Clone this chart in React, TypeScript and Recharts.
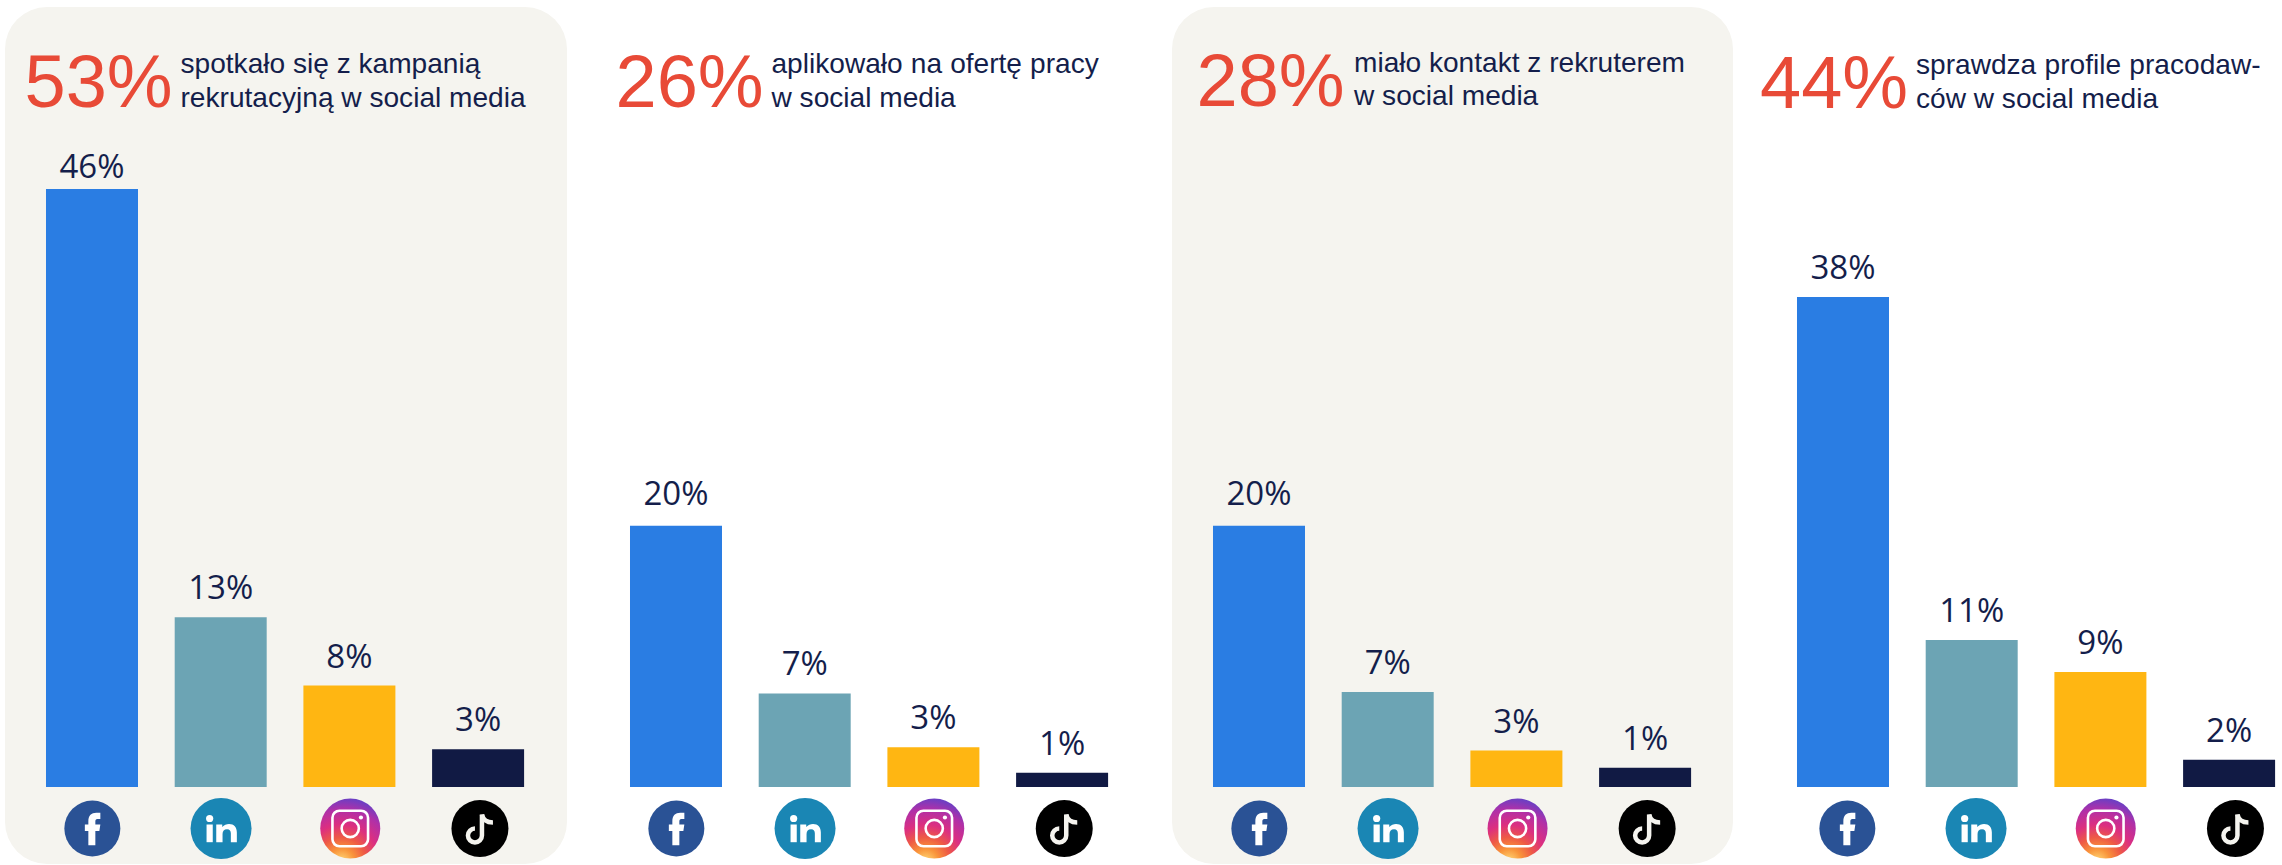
import { BarChart, Bar, XAxis, YAxis, Cell, LabelList } from 'recharts';

const platforms = ['Facebook', 'LinkedIn', 'Instagram', 'TikTok'];
const barColors = ['#2A7DE3', '#6CA4B4', '#FFB612', '#111A44'];

// Bar lengths, the printed labels are these rounded
const recruitingCampaign = [46, 13.05, 7.8, 2.9];
const appliedToOffer = [20.1, 7.2, 3.05, 1.1];
const recruiterContact = [20.1, 7.3, 2.8, 1.49];
const employerProfiles = [37.7, 11.3, 8.85, 2.1];

const RED = '#E84A37';
const NAVY = '#141E4B';
const PANEL_BG = '#F5F4EF';
const HEAD_FONT = '"Liberation Sans", Arial, sans-serif';

const panels = [
  {
    values: recruitingCampaign,
    total: '53%',
    lines: ['spotkało się z kampanią', 'rekrutacyjną w social media'],
    chartX: 27.8,
    iconShift: [0, 0, 0.5, 1.5],
    totalX: 24.5,
    totalY: 107,
    textX: 180.5,
    lineY: [73, 107],
    spacing: 0,
  },
  {
    values: appliedToOffer,
    total: '26%',
    lines: ['aplikowało na ofertę pracy', 'w social media'],
    chartX: 612,
    iconShift: [0, 0, 0.5, 1.8],
    totalX: 615.5,
    totalY: 107,
    textX: 771.5,
    lineY: [73, 107],
    spacing: 0.3,
  },
  {
    values: recruiterContact,
    total: '28%',
    lines: ['miało kontakt z rekruterem', 'w social media'],
    chartX: 1195.1,
    iconShift: [0, 0, 0.8, 1.7],
    totalX: 1196.5,
    totalY: 106,
    textX: 1354,
    lineY: [72, 104.5],
    spacing: 0,
  },
  {
    values: employerProfiles,
    total: '44%',
    lines: ['sprawdza profile pracodaw-', 'ców w social media'],
    chartX: 1779,
    iconShift: [4, 4, 5, 6],
    totalX: 1760,
    totalY: 108,
    textX: 1916,
    lineY: [73.5, 108],
    spacing: 0.5,
  },
];

function PlatformIcon({ x, y, payload, shift }: any) {
  const name = payload.value;
  const cx = x + shift[platforms.indexOf(name)];
  const cy = y + 33.5;
  return (
    <g transform={`translate(${cx},${cy})`}>
      {name === 'Facebook' && (
        <>
          <circle r={28} fill="#2A5295" />
          <path
            d="M-4 16.7V2.5H-7.5V-4H-4V-7C-4-13-1-15.7 4-15.7H8V-9.5H5C3.5-9.5 3-8.5 3-7V-4H8L7 2.5H3V16.7Z"
            fill="#fff"
          />
        </>
      )}
      {name === 'LinkedIn' && (
        <>
          <circle r={30.5} fill="#1A86B4" />
          <circle cx={-11.4} cy={-10} r={3.6} fill="#fff" />
          <rect x={-14.5} y={-4} width={6.2} height={17.7} fill="#fff" />
          <path
            d="M-4.8 13.7V-4H1.2V-1.5C3-3.8 5.5-4.6 8-4.6C13-4.6 15.8-1.5 15.8 4V13.7H9.8V5C9.8 2.5 8.8.8 6 .8C3 .8 1.5 2.8 1.5 5.5V13.7Z"
            fill="#fff"
          />
        </>
      )}
      {name === 'Instagram' && (
        <>
          <circle r={30} fill="url(#igGradient)" />
          <rect x={-17.8} y={-17.8} width={35.6} height={35.6} rx={7} fill="none" stroke="#fff" strokeWidth={2.6} />
          <circle r={8.6} fill="none" stroke="#fff" strokeWidth={2.6} />
          <circle cx={10.7} cy={-11} r={2.1} fill="#fff" />
        </>
      )}
      {name === 'TikTok' && (
        <>
          <circle r={28.5} fill="#000" />
          <path d="M2 -14V7A7 7 0 1 1 -5 0" fill="none" stroke="#F5F4EF" strokeWidth={4.5} />
          <path d="M2 -14C3 -9 7 -6 13 -6" fill="none" stroke="#F5F4EF" strokeWidth={4.5} />
        </>
      )}
    </g>
  );
}

function ValueLabel({ x, y, width, value }: any) {
  // the tallest bar has its label sitting closer to the bar
  const gap = value > 40 ? 11 : value > 15 && value < 30 ? 21 : 18;
  return (
    <text
      x={x + width / 2}
      y={y - gap}
      textAnchor="middle"
      fontFamily='"Open Sans", sans-serif'
      fontSize={33}
      fill={NAVY}
    >
      {`${Math.round(value)}%`}
    </text>
  );
}

function PanelChart({ panel }: any) {
  const data = platforms.map((name, i) => ({ name, value: panel.values[i] }));
  return (
    <div style={{ position: 'absolute', left: panel.chartX, top: 0 }}>
      <BarChart width={514.8} height={865} data={data} margin={{ top: 137, right: 0, bottom: 0, left: 0 }}>
        <defs>
          <radialGradient id="igGradient" cx="0.36" cy="1.05" r="1.06">
            <stop offset="0" stopColor="#FFDC7A" />
            <stop offset="0.2" stopColor="#F9943A" />
            <stop offset="0.38" stopColor="#EE5A45" />
            <stop offset="0.58" stopColor="#DC2F80" />
            <stop offset="0.82" stopColor="#B030A8" />
            <stop offset="1" stopColor="#6A3FC4" />
          </radialGradient>
        </defs>
        <XAxis
          dataKey="name"
          height={78}
          interval={0}
          axisLine={false}
          tickLine={false}
          tick={<PlatformIcon shift={panel.iconShift} />}
        />
        <YAxis hide domain={[0, 50]} />
        <Bar dataKey="value" barSize={92} isAnimationActive={false}>
          {data.map((d, i) => (
            <Cell key={d.name} fill={barColors[i]} />
          ))}
          <LabelList dataKey="value" content={<ValueLabel />} />
        </Bar>
      </BarChart>
    </div>
  );
}

export default function App() {
  return (
    <div
      style={{
        position: 'absolute',
        left: 0,
        top: 0,
        width: 2282,
        height: 865,
        overflow: 'hidden',
        background: '#fff',
      }}
    >
      <div style={{ position: 'absolute', left: 5, top: 7, width: 562, height: 857, borderRadius: 42, background: PANEL_BG }} />
      <div style={{ position: 'absolute', left: 1172, top: 7, width: 561, height: 857, borderRadius: 42, background: PANEL_BG }} />
      {panels.map(p => (
        <PanelChart key={p.total} panel={p} />
      ))}
      <svg width={2282} height={865} style={{ position: 'absolute', left: 0, top: 0 }}>
        {panels.map(p => (
          <g key={p.total} fontFamily={HEAD_FONT}>
            <text x={p.totalX} y={p.totalY} fontSize={74} fill={RED}>
              {p.total}
            </text>
            {p.lines.map((line, i) => (
              <text
                key={line}
                x={p.textX}
                y={p.lineY[i]}
                fontSize={28.1}
                fill={NAVY}
                wordSpacing={i === 0 ? p.spacing : 0}
              >
                {line}
              </text>
            ))}
          </g>
        ))}
      </svg>
    </div>
  );
}
